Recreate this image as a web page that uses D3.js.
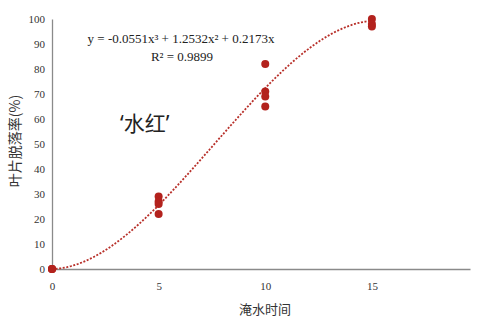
<!DOCTYPE html>
<html>
<head>
<meta charset="utf-8">
<script src="https://cdn.jsdelivr.net/npm/d3@7"></script>
<style>
  body { margin: 0; background: #fff; }
  .tick text { font-family: "Liberation Serif", "DejaVu Serif", serif; font-size: 11px; fill: #333; }
</style>
</head>
<body>
<div id="chart"></div>
<script>
// flooding days and observed leaf abscission rate (%)
var days  = [0, 0, 0, 5, 5, 5, 5, 10, 10, 10, 10, 15, 15, 15];
var rates = [0, 0, 0, 29, 27, 26, 22, 82, 71, 69, 65, 100, 98, 97];

// fitted trendline y = a x^3 + b x^2 + c x
var coef = [-0.0551, 1.2532, 0.2173];
var fitLabel = "y = -0.0551x³ + 1.2532x² + 0.2173x";
var r2Label = "R² = 0.9899";

var xTicks = [0, 5, 10, 15];
var yTicks = [0, 10, 20, 30, 40, 50, 60, 70, 80, 90, 100];

var width = 481, height = 336;
var margin = {top: 19, right: 11, bottom: 67, left: 52};

var svg = d3.select("#chart")
  .append("svg")
    .attr("width", width)
    .attr("height", height);

var x = d3.scaleLinear()
  .domain([0, 19.6])
  .range([margin.left, width - margin.right]);

var y = d3.scaleLinear()
  .domain([0, 100])
  .range([height - margin.bottom, margin.top]);

// axes
var xAxis = svg.append("g")
  .attr("transform", "translate(0," + y(0) + ")")
  .call(d3.axisBottom(x).tickValues(xTicks).tickSize(0).tickPadding(13));
xAxis.select(".domain").attr("stroke", "#8a8a8a").attr("stroke-width", 1.3);

var yAxis = svg.append("g")
  .attr("transform", "translate(" + x(0) + ",0)")
  .call(d3.axisLeft(y).tickValues(yTicks).tickSize(0).tickPadding(7));
yAxis.select(".domain").attr("stroke", "#8a8a8a").attr("stroke-width", 1.3);

// trendline
var fit = function(t){ return coef[0]*t*t*t + coef[1]*t*t + coef[2]*t; };
var line = d3.line()
  .x(function(d){ return x(d); })
  .y(function(d){ return y(fit(d)); });

svg.append("path")
  .datum(d3.range(0, 15.01, 0.1))
  .attr("d", line)
  .attr("fill", "none")
  .attr("stroke", "#b8302a")
  .attr("stroke-width", 1.8)
  .attr("stroke-dasharray", "2,1.6");

// points
svg.selectAll("circle.pt")
  .data(days)
  .enter()
  .append("circle")
    .attr("class", "pt")
    .attr("cx", function(d){ return x(d); })
    .attr("cy", function(d,i){ return y(rates[i]); })
    .attr("r", 4)
    .style("fill", "#b3221d");

// equation
svg.append("text")
  .attr("x", 181)
  .attr("y", 43)
  .attr("text-anchor", "middle")
  .style("font-family", "Liberation Serif, serif")
  .style("font-size", "13px")
  .style("fill", "#222")
  .text(fitLabel);

svg.append("text")
  .attr("x", 182)
  .attr("y", 61)
  .attr("text-anchor", "middle")
  .style("font-family", "Liberation Serif, serif")
  .style("font-size", "13px")
  .style("fill", "#222")
  .text(r2Label);

// cultivar label
svg.append("text")
  .attr("x", 120)
  .attr("y", 131)
  .style("font-family", "'Noto Sans', 'Noto Sans CJK SC', sans-serif")
  .style("font-size", "21px")
  .style("fill", "#222")
  .text("‘水红’");

// axis titles
svg.append("text")
  .attr("x", 265)
  .attr("y", 314)
  .attr("text-anchor", "middle")
  .style("font-family", "'Noto Sans CJK SC', sans-serif")
  .style("font-size", "13px")
  .style("fill", "#333")
  .text("淹水时间");

svg.append("text")
  .attr("transform", "translate(20,141) rotate(-90)")
  .attr("text-anchor", "middle")
  .style("font-family", "'Noto Sans CJK SC', sans-serif")
  .style("font-size", "14px")
  .style("fill", "#333")
  .text("叶片脱落率(%)");
</script>
</body>
</html>
